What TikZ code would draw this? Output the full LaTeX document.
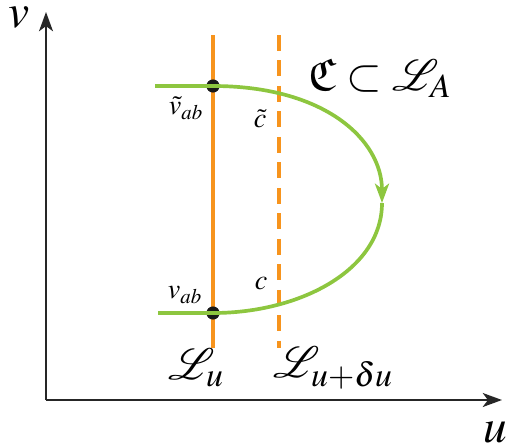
\documentclass[tikz,border=0pt]{standalone}
\usepackage{mathptmx}
\usepackage{amsfonts}
\usepackage{mathrsfs}
\usetikzlibrary{arrows.meta}
\definecolor{Orange}{RGB}{247,148,29}
\definecolor{Leaf}{RGB}{141,198,63}
\newcommand{\Lspace}{\mathscr{L}}
\newcommand{\Curve}{\mathfrak{C}}

\begin{document}
\begin{tikzpicture}[
  x=0.02cm, y=-0.02cm,
  >={Stealth[length=11pt, width=8pt, inset=3pt]},
  axis/.style={->, line width=0.9pt, black!85},
  leaf/.style={line width=2.1pt, Leaf},
  slice/.style={line width=2.1pt, Orange},
  nextslice/.style={slice, dash pattern=on 9pt off 5.5pt},
  dot/.style={circle, fill=black!90, inner sep=0pt, minimum size=7.5pt},
  big/.style={font=\fontsize{27}{30}\selectfont, inner sep=0pt},
  mid/.style={font=\fontsize{26}{28}\selectfont, inner sep=0pt},
  small/.style={font=\fontsize{16}{18}\selectfont, inner sep=0pt}
]
  \useasboundingbox (0,0) rectangle (510,447);

  % axes
  \coordinate (origin) at (46,400);
  \coordinate (vend) at (46,12);
  \coordinate (uend) at (502,400);
  \draw[axis] (origin) -- (vend);
  \draw[axis] (origin) -- (uend);
  \node[big] (vlab) at (19,18) {$v$};
  \node[big] (ulab) at (495,432) {$u$};

  % the two lines L_u and L_{u+du}
  \coordinate (Lutop) at (213,35);
  \coordinate (Lubot) at (213,348);
  \coordinate (Ldutop) at (279,35);
  \coordinate (Ldubot) at (279,348);
  \draw[slice] (Lutop) -- (Lubot);
  \draw[nextslice] (Ldutop) -- (Ldubot);

  % the curve
  \coordinate (topin) at (155,86);
  \coordinate (botin) at (158,313);
  \coordinate (turn) at (382,203);
  \node[dot] (vt) at (213,86) {};
  \node[dot] (vb) at (213,313) {};
  \draw[leaf] (topin) -- (vt.center);
  \draw[leaf, ->] (vt.center) .. controls (325,86) and (382,140) .. (turn);
  \draw[leaf] (turn) .. controls (382,270) and (300,313) .. (vb.center) -- (botin);

  % labels
  \node[small] (vtlab) at (186,108) {$\tilde v_{ab}$};
  \node[small] (ctlab) at (260,119) {$\tilde c$};
  \node[small] (vblab) at (185,295) {$v_{ab}$};
  \node[small] (cblab) at (261,284) {$c$};
  \node[mid] (Lulab) at (196,368) {$\Lspace_u$};
  \node[mid] (Ldulab) at (333,368) {$\Lspace_{u+\delta u}$};
  \node[mid] (Clab) at (380,78) {$\Curve\subset\Lspace_A$};
\end{tikzpicture}
\end{document}
